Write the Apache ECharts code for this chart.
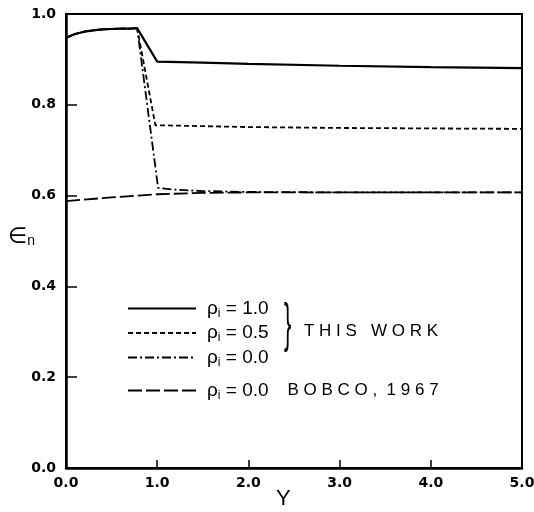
<!DOCTYPE html>
<html><head><meta charset="utf-8">
<script src="https://cdn.jsdelivr.net/npm/echarts@6/dist/echarts.min.js"></script>
<style>html,body{margin:0;padding:0;background:#fff}#c{width:534px;height:512px}</style>
</head><body><div id="c"></div>
<script>
// Data
const xRho10 = [0, 0.05, 0.1, 0.2, 0.3, 0.4, 0.5, 0.6, 0.7, 0.78, 1.0, 1.5, 2.0, 3.0, 4.0, 5.0];
const yRho10 = [0.947, 0.952, 0.956, 0.961, 0.964, 0.966, 0.967, 0.968, 0.968, 0.969, 0.895, 0.893, 0.890, 0.886, 0.883, 0.881];
const xRho05 = [0, 0.05, 0.1, 0.2, 0.3, 0.4, 0.5, 0.6, 0.7, 0.78, 0.98, 1.5, 2.0, 3.0, 4.0, 5.0];
const yRho05 = [0.947, 0.952, 0.956, 0.961, 0.964, 0.966, 0.967, 0.968, 0.968, 0.969, 0.755, 0.753, 0.751, 0.749, 0.748, 0.747];
const xRho00 = [0, 0.05, 0.1, 0.2, 0.3, 0.4, 0.5, 0.6, 0.7, 0.78, 1.01, 1.2, 1.5, 2.0, 3.0, 4.0, 5.0];
const yRho00 = [0.947, 0.952, 0.956, 0.961, 0.964, 0.966, 0.967, 0.968, 0.968, 0.969, 0.617, 0.613, 0.610, 0.608, 0.607, 0.607, 0.607];
const xBobco = [0, 0.5, 1.0, 1.5, 2.0, 3.0, 4.0, 5.0];
const yBobco = [0.588, 0.596, 0.603, 0.606, 0.607, 0.607, 0.607, 0.607];
const xTicks = ['0.0', '1.0', '2.0', '3.0', '4.0', '5.0'];
const yTicks = ['0.0', '0.2', '0.4', '0.6', '0.8', '1.0'];
const seriesNames = ['rho10', 'rho05', 'rho00', 'bobco'];
const legendValues = ['1.0', '0.5', '0.0', '0.0'];

const zip = (xs, ys) => xs.map((x, i) => [x, ys[i]]);
const chart = echarts.init(document.getElementById('c'));
const lab = { fontFamily: 'DejaVu Sans', fontWeight: 'bold', fontSize: 14, color: '#000' };
const richLeg = {
  r: { fontFamily: 'Liberation Sans', fontSize: 19, color: '#000' },
  s: { fontFamily: 'Liberation Sans', fontSize: 12, color: '#000', padding: [10, 0, 0, 0] },
  t: { fontFamily: 'Liberation Sans', fontSize: 17, color: '#000' }
};
const legFmt = name => {
  const i = seriesNames.indexOf(name);
  return '{r|ρ}{s|i}{r| = ' + legendValues[i] + '}';
};
const legBase = {
  orient: 'vertical', left: 122, itemWidth: 68, itemHeight: 10,
  itemStyle: { opacity: 0 }, textStyle: { rich: richLeg, padding: [0, 0, 0, 6] }, selectedMode: false
};
chart.setOption({
  animation: false,
  grid: { left: 66, right: 12, top: 14, bottom: 44, outerBoundsMode: 'none', containLabel: false,
          show: true, borderColor: '#000', borderWidth: 2 },
  xAxis: {
    type: 'value', min: 0, max: 5, interval: 1,
    axisLine: { lineStyle: { color: '#000', width: 2.5 } },
    axisTick: { inside: true, length: 8, lineStyle: { color: '#000', width: 1.5 } },
    splitLine: { show: false },
    axisLabel: Object.assign({ margin: 8, formatter: v => xTicks[Math.round(v)] }, lab)
  },
  yAxis: {
    type: 'value', min: 0, max: 1, interval: 0.2,
    axisLine: { lineStyle: { color: '#000', width: 2.5 } },
    axisTick: { inside: true, length: 11, lineStyle: { color: '#000', width: 1.5 } },
    splitLine: { show: false },
    axisLabel: Object.assign({ margin: 10, formatter: v => yTicks[Math.round(v * 5)] }, lab)
  },
  legend: [
    Object.assign({ data: seriesNames.slice(0, 3), top: 294, itemGap: 4, formatter: legFmt }, legBase),
    Object.assign({ data: ['bobco'], top: 376, formatter: name => legFmt(name) + '{t|    B O B C O ,  1 9 6 7}' }, legBase)
  ],
  graphic: [
    { type: 'text', left: 284, top: 300, scaleY: 2.4, style: { text: '}', fontFamily: 'Liberation Sans', fontSize: 22, fill: '#000' } },
    { type: 'text', left: 304, top: 323, style: { text: 'T H I S   W O R K', fontFamily: 'Liberation Sans', fontSize: 17, fill: '#000' } },
    { type: 'text', left: 8, top: 226, style: {
        text: '{e|∈}{n|n}',
        rich: {
          e: { fontFamily: 'DejaVu Sans', fontSize: 22, fill: '#000' },
          n: { fontFamily: 'Liberation Sans', fontSize: 14, fill: '#000', padding: [8, 0, 0, 0] }
        } } },
    { type: 'text', left: 276, top: 488, style: { text: 'Y', fontFamily: 'Liberation Sans', fontSize: 22, fill: '#000' } }
  ],
  series: [
    { name: 'rho10', type: 'line', data: zip(xRho10, yRho10), symbol: 'none', itemStyle: { color: '#000' }, lineStyle: { color: '#000', width: 2.2, type: 'solid' } },
    { name: 'rho05', type: 'line', data: zip(xRho05, yRho05), symbol: 'none', itemStyle: { color: '#000' }, lineStyle: { color: '#000', width: 1.8, type: [5, 3] } },
    { name: 'rho00', type: 'line', data: zip(xRho00, yRho00), symbol: 'none', itemStyle: { color: '#000' }, lineStyle: { color: '#000', width: 1.8, type: [9, 3, 2, 3] } },
    { name: 'bobco', type: 'line', data: zip(xBobco, yBobco), symbol: 'none', itemStyle: { color: '#000' }, lineStyle: { color: '#000', width: 1.8, type: [14, 4] } }
  ]
});
</script></body></html>
